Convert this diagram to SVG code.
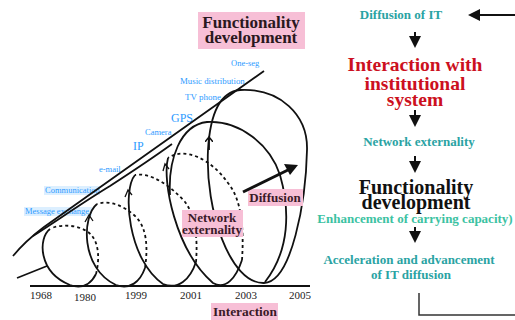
<svg xmlns="http://www.w3.org/2000/svg" width="515" height="320" viewBox="0 0 515 320">
<style>
.lbl{font-family:"Liberation Serif","Times New Roman",serif;fill:#2e9bff;}
.bold{font-family:"Liberation Serif","Times New Roman",serif;font-weight:bold;}
.yr{font-family:"Liberation Serif","Times New Roman",serif;fill:#222;font-size:11px;text-anchor:middle;}
.pink{fill:#f7bfd6;}
.hl{fill:#dcefff;}
.ln{fill:none;stroke:#111;stroke-width:1.8;}
.tick{fill:none;stroke:#111;stroke-width:1.3;}
.dash{fill:none;stroke:#111;stroke-width:1.8;stroke-dasharray:3 3;}
.teal{fill:#2aa3a3;}
.arr{stroke:#111;stroke-width:2;fill:none;}
</style>
<defs>
<marker id="ah" markerWidth="6" markerHeight="6" refX="5" refY="3" orient="auto" markerUnits="strokeWidth"><path d="M0,0 L6,3 L0,6 Z" fill="#111"/></marker>
<marker id="ahs" markerWidth="8" markerHeight="8" refX="4" refY="4" orient="auto" markerUnits="userSpaceOnUse"><path d="M0,0 L5,4 L0,8" fill="none" stroke="#111" stroke-width="1.5"/></marker>
</defs>
<rect width="515" height="320" fill="#fff"/>
<g id="labels-blue">
<rect class="hl" x="24" y="207" width="68" height="9"/>
<rect class="hl" x="44" y="186" width="56" height="9"/>
<text class="lbl" x="231" y="66" font-size="8.5">One-seg</text>
<text class="lbl" x="180" y="84" font-size="8.8">Music distribution</text>
<text class="lbl" x="185" y="100" font-size="9">TV phone</text>
<text class="lbl" x="171" y="122" font-size="12">GPS</text>
<text class="lbl" x="145" y="135" font-size="8.5">Camera</text>
<text class="lbl" x="133" y="150" font-size="12">IP</text>
<text class="lbl" x="99" y="172" font-size="8.5">e-mail</text>
<text class="lbl" x="45" y="193" font-size="8.5">Communication</text>
<text class="lbl" x="25" y="214" font-size="8.5">Message exchange</text>
</g>
<g id="spiral">
<path class="ln" d="M13,256 C22,245 32,236 44,227 L264,71"/>
<path class="ln" d="M33,236 C55,222 85,201 110,186 C130,173 150,160 172,144"/>
<path class="ln" d="M17,278 L47,266"/>
<path class="ln" d="M50,229 C38,238 38,272 70,285 C84,290 92,282 96,274"/>
<path class="dash" d="M96,274 C100,258 99,240 88,232 C78,225 62,224 52,228"/>
<path class="ln" d="M97,204 C82,216 80,268 116,285 C130,290 140,282 145,268"/>
<path class="dash" d="M145,268 C148,248 147,228 136,217 C124,205 108,200 97,204"/>
<path class="ln" d="M135,175 C122,190 128,260 163,284 C178,290 190,280 196,262"/>
<path class="dash" d="M196,262 C198,238 195,215 185,202 C170,185 150,172 135,175"/>
<path class="ln" d="M168,158 C162,180 175,250 213,283 C226,290 236,278 242,260"/>
<path class="dash" d="M242,260 C244,230 242,200 228,183 C212,160 185,146 168,158"/>
<path class="ln" d="M170,195 C168,160 180,125 207,122 C240,120 270,145 280,175 C290,210 290,250 265,282"/>
<path class="ln" d="M240,90 C280,88 308,115 307,150 C306,200 292,282 264,283 C230,284 205,210 208,150 C210,115 220,92 240,90 Z"/>
<path class="ln" d="M209,150 L209,138" marker-end="url(#ahs)"/>
<path class="tick" d="M85,222 L89,215 L93,221"/>
<path class="tick" d="M125,197 L128,190 L132,195"/>
<path class="tick" d="M163,171 L165,164 L169,169"/>
</g>
<g id="axis">
<line x1="30" y1="286" x2="310" y2="286" stroke="#111" stroke-width="2"/>
<text class="yr" x="41" y="299">1968</text><text class="yr" x="85" y="301">1980</text><text class="yr" x="136" y="299">1999</text><text class="yr" x="191" y="299">2001</text><text class="yr" x="246" y="299">2003</text><text class="yr" x="300" y="299">2005</text>
</g>
<g id="func-dev-label">
<rect class="pink" x="198" y="12" width="107" height="37"/>
<text class="bold" x="251" y="27.5" font-size="17" fill="#2a1820" text-anchor="middle">Functionality</text>
<text class="bold" x="251" y="43" font-size="17" fill="#2a1820" text-anchor="middle">development</text>
</g>
<g id="diffusion-label">
<rect class="pink" x="248" y="189" width="55" height="17"/>
<text class="bold" x="275" y="202" font-size="13" fill="#3a1a28" text-anchor="middle">Diffusion</text>
<path d="M243,192 L290,169" stroke="#111" stroke-width="3" fill="none"/>
<path d="M298,165 L284,164 L290,175 Z" fill="#111"/>
</g>
<g id="network-label">
<rect class="pink" x="182" y="210" width="61" height="27"/>
<text class="bold" x="212" y="221.5" font-size="13" fill="#3a1a28" text-anchor="middle">Network</text>
<text class="bold" x="212" y="234" font-size="13" fill="#3a1a28" text-anchor="middle">externality</text>
</g>
<g id="interaction-label">
<rect class="pink" x="211" y="303" width="67" height="17"/>
<text class="bold" x="245" y="316" font-size="13.4" fill="#3a1a28" text-anchor="middle">Interaction</text>
</g>
<g id="flow">
<g id="n1"><text class="bold teal" x="401" y="19" font-size="13" text-anchor="middle">Diffusion of IT</text></g>
<g id="n2"><g class="bold" fill="#cc1020" font-size="19.5" text-anchor="middle"><text x="415" y="71">Interaction with</text><text x="415" y="90">institutional</text><text x="415" y="106">system</text></g></g>
<g id="n3"><text class="bold teal" x="419" y="146" font-size="13" text-anchor="middle">Network externality</text></g>
<g id="n4"><g class="bold" fill="#111" font-size="20" text-anchor="middle"><text x="416" y="194">Functionality</text><text x="416" y="209">development</text></g>
<text class="bold" x="415" y="223" font-size="13" fill="#3cc2a2" text-anchor="middle">Enhancement of carrying capacity)</text></g>
<g id="n5"><g class="bold teal" font-size="13" text-anchor="middle"><text x="409" y="264">Acceleration and advancement</text><text x="411" y="279">of IT diffusion</text></g></g>
</g>
<g id="connectors">
<line class="arr" x1="515" y1="15" x2="470" y2="15" marker-end="url(#ah)"/>
<line class="arr" x1="415" y1="32" x2="415" y2="46" marker-end="url(#ah)"/>
<line class="arr" x1="415" y1="110" x2="415" y2="125" marker-end="url(#ah)"/>
<line class="arr" x1="415" y1="156" x2="415" y2="171" marker-end="url(#ah)"/>
<line class="arr" x1="415" y1="227" x2="415" y2="241" marker-end="url(#ah)"/>
<path d="M419,293 L419,315 L515,315" fill="none" stroke="#333" stroke-width="1.5"/>
</g>
</svg>
